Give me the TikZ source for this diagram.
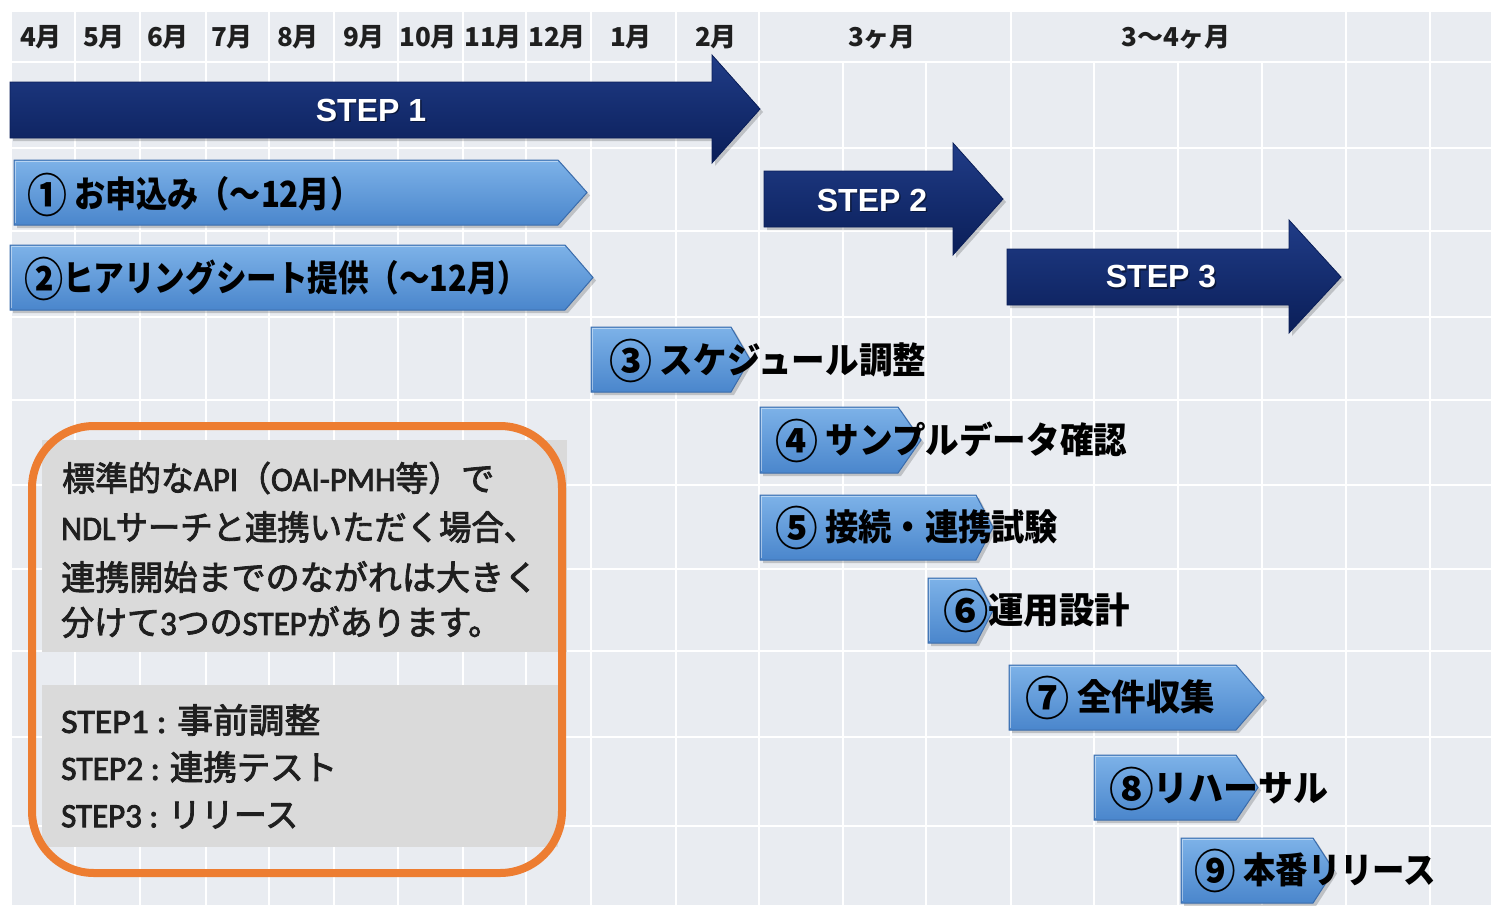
\documentclass[tikz,border=0pt]{standalone}
\usepackage{graphicx}
\usepackage{fontspec}
\setmainfont{Liberation Sans}
\newfontfamily\jp{Noto Sans CJK JP}
\newfontfamily\jpm{Noto Sans CJK JP}[FakeBold=2.5]
\newfontfamily\lat{Carlito}[FakeBold=2.5]
\definecolor{gridbg}{RGB}{233,236,241}
\definecolor{navyT}{RGB}{32,60,135}
\definecolor{navyB}{RGB}{10,30,88}
\definecolor{barT}{RGB}{125,178,232}
\definecolor{barB}{RGB}{74,134,204}
\definecolor{barL}{RGB}{58,108,172}
\definecolor{orng}{RGB}{237,125,49}
\definecolor{greybox}{RGB}{218,218,218}
\newsavebox\fitbox
\newlength\fitlen
\newcommand\fitw[2]{\sbox\fitbox{#2}\setlength\fitlen{\wd\fitbox}\pgfmathsetmacro\fitsc{#1/\fitlen}\scalebox{\fitsc}[1]{\usebox\fitbox}}
\newcommand\cnum[1]{\raisebox{-0.13em}{\scalebox{1.28}{#1}}}
\newcommand\ganttbar[5]{%
  \fill[barshadow, shift={(3,3)}] (#1,#4) -- (#2,#4) -- (#3,{(#4+#5)/2}) -- (#2,#5) -- (#1,#5) -- cycle;
  \path[bluebar] (#1,#4) -- (#2,#4) -- (#3,{(#4+#5)/2}) -- (#2,#5) -- (#1,#5) -- cycle;
  \draw[white, opacity=0.45, line width=1.5pt] ({#1+1.5},{#5-2}) -- ({#1+1.5},{#4+1.5}) -- ({#2},{#4+1.5});
}
\tikzset{
  gridline/.style={white, line width=2.5pt},
  navyarrow/.style={top color=navyT, bottom color=navyB, draw=navyB, line width=0.8pt},
  bluebar/.style={top color=barT, bottom color=barB, draw=barL, line width=1pt},
  barshadow/.style={fill=black, opacity=0.18},
  steplabel/.style={text=white, font=\bfseries\fontsize{32}{32}\selectfont, inner sep=0pt},
  stepshadow/.style={text=black, opacity=0.45, font=\bfseries\fontsize{32}{32}\selectfont, inner sep=0pt},
  bartext/.style={anchor=west, inner sep=0pt, text=black, font=\jp\bfseries\fontsize{36}{36}\selectfont},
  hdr/.style={inner sep=0pt, text=black!88, font=\jp\bfseries\fontsize{26}{26}\selectfont},
  boxtext/.style={anchor=west, inner sep=0pt, text=black!88, font=\jpm\fontsize{34}{34}\selectfont},
}
\begin{document}
\begin{tikzpicture}[x=1pt,y=-1pt]
\useasboundingbox (0,0) rectangle (1491,905);
\fill[white] (0,0) rectangle (1491,905);
\fill[gridbg] (12,12) rectangle (1491,905);
% grid
\foreach \x in {75,140,206,269,334,398,463,526,591,676,759,1011,1346,1430}
  \draw[gridline] (\x,12) -- (\x,905);
\foreach \x in {843,926,1094,1178,1262}
  \draw[gridline] (\x,62) -- (\x,905);
\foreach \y in {62,148,231,317,400,485,569,651,737,826}
  \draw[gridline] (12,\y) -- (1491,\y);
% header
\foreach \x/\t/\n in {41/4月/a,104/5月/b,168/6月/c,232/7月/d,298/8月/e,364/9月/f,428/10月/g,493/11月/h,557/12月/i,631/1月/j,716/2月/k,882/3ヶ月/l,1176/3〜4ヶ月/m}
  \node[hdr] (h\n) at (\x,37) {\t};
% STEP arrows
\fill[barshadow, shift={(3,3)}] (10,82) -- (712,82) -- (712,55) -- (760,109) -- (712,163) -- (712,138) -- (10,138) -- cycle;
\path[navyarrow] (10,82) -- (712,82) -- (712,55) -- (760,109) -- (712,163) -- (712,138) -- (10,138) -- cycle;
\fill[barshadow, shift={(3,3)}] (764,171) -- (953,171) -- (953,143) -- (1003,199) -- (953,255) -- (953,227) -- (764,227) -- cycle;
\path[navyarrow] (764,171) -- (953,171) -- (953,143) -- (1003,199) -- (953,255) -- (953,227) -- (764,227) -- cycle;
\fill[barshadow, shift={(3,3)}] (1007,249) -- (1289,249) -- (1289,220) -- (1341,277) -- (1289,333) -- (1289,305) -- (1007,305) -- cycle;
\path[navyarrow] (1007,249) -- (1289,249) -- (1289,220) -- (1341,277) -- (1289,333) -- (1289,305) -- (1007,305) -- cycle;
\node[stepshadow] (s1s) at (372.5,111.5) {STEP 1};
\node[steplabel] (s1) at (371,110) {STEP 1};
\node[stepshadow] (s2s) at (873.5,201.5) {STEP 2};
\node[steplabel] (s2) at (872,200) {STEP 2};
\node[stepshadow] (s3s) at (1162.5,278.5) {STEP 3};
\node[steplabel] (s3) at (1161,277) {STEP 3};
% task bars
\ganttbar{14}{558}{587}{160}{225}
\ganttbar{10}{565}{593}{245}{310}
\ganttbar{591}{731}{750}{327}{392}
\ganttbar{760}{898}{921}{407}{473}
\ganttbar{760}{976}{993}{495}{560}
\ganttbar{928}{976}{993}{578}{643}
\ganttbar{1009}{1236}{1264}{665}{730}
\ganttbar{1094}{1236}{1258}{755}{820}
\ganttbar{1181}{1313}{1334}{838}{903}
\node[bartext] (t1) at (27,195) {\fitw{334}{\cnum{①} お申込み（〜12月）}};
\node[bartext] (t2) at (24,279) {\fitw{504}{\cnum{②}ヒアリングシート提供（〜12月）}};
\node[bartext] (t3) at (609,361) {\fitw{317}{\cnum{③} スケジュール調整}};
\node[bartext] (t4) at (775,441) {\fitw{352}{\cnum{④} サンプルデータ確認}};
\node[bartext] (t5) at (775,528) {\fitw{283}{\cnum{⑤} 接続・連携試験}};
\node[bartext] (t6) at (943,611) {\fitw{187}{\cnum{⑥}運用設計}};
\node[bartext] (t7) at (1025,698) {\fitw{190}{\cnum{⑦} 全件収集}};
\node[bartext] (t8) at (1109,789) {\fitw{219}{\cnum{⑧}リハーサル}};
\node[bartext] (t9) at (1194,871) {\fitw{242}{\cnum{⑨} 本番リリース}};
% explanation box
\fill[greybox] (42,440) rectangle (567,652);
\fill[greybox] (42,685) rectangle (558,847);
\draw[orng, line width=8pt, rounded corners=62pt] (32,426) rectangle (562,873);
\node[boxtext] (b1) at (62,478) {\fitw{432}{標準的な{\lat API}（{\lat OAI-PMH}等）で}};
\node[boxtext] (b2) at (61,527) {\fitw{475}{{\lat NDL}サーチと連携いただく場合、}};
\node[boxtext] (b3) at (61,577) {\fitw{477}{連携開始までのながれは大きく}};
\node[boxtext] (b4) at (61,622) {\fitw{440}{分けて{\lat 3}つの{\lat STEP}があります。}};
\node[boxtext] (b5) at (61,720) {\fitw{259}{{\lat STEP1 : }事前調整}};
\node[boxtext] (b6) at (61,767) {\fitw{276}{{\lat STEP2 : }連携テスト}};
\node[boxtext] (b7) at (61,815) {\fitw{237}{{\lat STEP3 : }リリース}};
\end{tikzpicture}
\end{document}
